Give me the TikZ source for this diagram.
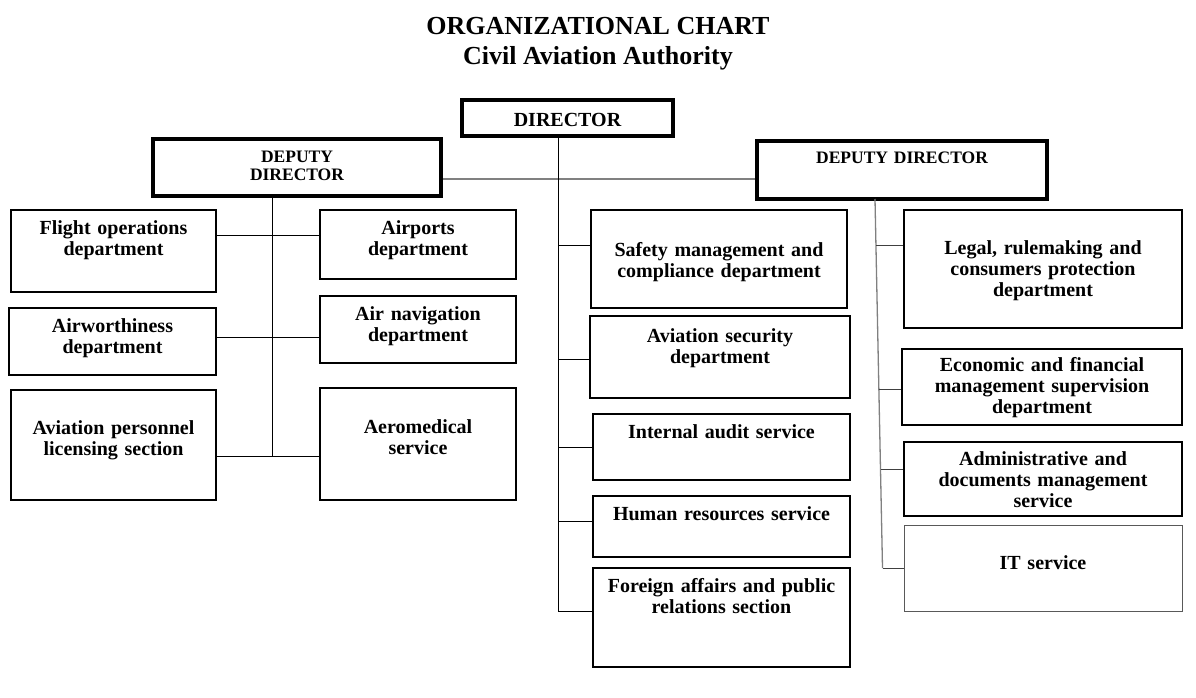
\documentclass[tikz,border=0pt]{standalone}
\usepackage{fontspec}
\setmainfont{Liberation Serif}
\usetikzlibrary{calc}

\begin{document}
\begin{tikzpicture}[x=1pt,y=-1pt,
    dept box/.style={rectangle,draw,line width=2.5pt,inner sep=0pt},
    head box/.style={rectangle,draw,line width=4pt,inner sep=0pt},
    box text/.style={font=\bfseries\fontsize{20}{21}\selectfont,text width=290pt,align=center,inner sep=0pt,anchor=base},
    head text/.style={font=\bfseries\fontsize{17.5}{18}\selectfont,text width=290pt,align=center,inner sep=0pt,anchor=base},
    title text/.style={font=\bfseries\fontsize{26}{30}\selectfont,inner sep=0pt,anchor=base},
    link/.style={line width=1pt},
    grey link/.style={line width=1.3pt,draw=gray}]
    \useasboundingbox (0,0) rectangle (1196,698);

    % title
    \node[title text] (title) at (598,35) {ORGANIZATIONAL CHART};
    \node[title text] (subtitle) at (598,65) {Civil Aviation Authority};

    % management
    \node[head box,minimum width=211pt,minimum height=36pt] (director) at (567.5,118) {};
    \node[box text] at ([yshift=-28.5pt]director.north) {DIRECTOR};
    \node[head box,minimum width=288pt,minimum height=57pt] (ldep) at (297,167.5) {};
    \node[head text] at ([yshift=-25pt]ldep.north) {DEPUTY\\DIRECTOR};
    \node[head box,minimum width=290pt,minimum height=58pt] (rdep) at (902,170) {};
    \node[head text] at ([yshift=-25pt]rdep.north) {DEPUTY DIRECTOR};

    % left deputy
    \node[dept box,minimum width=205pt,minimum height=82pt] (flight) at (113.5,251) {};
    \node[box text] at ([yshift=-26pt]flight.north) {Flight operations\\department};
    \node[dept box,minimum width=196pt,minimum height=69pt] (airports) at (418,244.5) {};
    \node[box text] at ([yshift=-26pt]airports.north) {Airports\\department};
    \node[dept box,minimum width=207pt,minimum height=67pt] (airworth) at (112.5,341.5) {};
    \node[box text] at ([yshift=-26pt]airworth.north) {Airworthiness\\department};
    \node[dept box,minimum width=196pt,minimum height=67pt] (airnav) at (418,329.5) {};
    \node[box text] at ([yshift=-26pt]airnav.north) {Air navigation\\department};
    \node[dept box,minimum width=205pt,minimum height=110pt] (licensing) at (113.5,445) {};
    \node[box text] at ([yshift=-46pt]licensing.north) {Aviation personnel\\licensing section};
    \node[dept box,minimum width=196pt,minimum height=112pt] (aeromed) at (418,444) {};
    \node[box text] at ([yshift=-47pt]aeromed.north) {Aeromedical\\service};

    % director
    \node[dept box,minimum width=256pt,minimum height=98pt] (safety) at (719,259) {};
    \node[box text] at ([yshift=-48pt]safety.north) {Safety management and\\compliance department};
    \node[dept box,minimum width=260pt,minimum height=82pt] (avsec) at (720,357) {};
    \node[box text] at ([yshift=-28pt]avsec.north) {Aviation security\\department};
    \node[dept box,minimum width=257pt,minimum height=66pt] (audit) at (721.5,447) {};
    \node[box text] at ([yshift=-26pt]audit.north) {Internal audit service};
    \node[dept box,minimum width=257pt,minimum height=61pt] (hr) at (721.5,526.5) {};
    \node[box text] at ([yshift=-26pt]hr.north) {Human resources service};
    \node[dept box,minimum width=257pt,minimum height=99pt] (foreign) at (721.5,617.5) {};
    \node[box text] at ([yshift=-26pt]foreign.north) {Foreign affairs and public\\relations section};

    % right deputy
    \node[dept box,minimum width=278pt,minimum height=118pt] (legal) at (1043,269) {};
    \node[box text] at ([yshift=-46pt]legal.north) {Legal, rulemaking and\\consumers protection\\department};
    \node[dept box,minimum width=280pt,minimum height=76pt] (econ) at (1042,387) {};
    \node[box text] at ([yshift=-24pt]econ.north) {Economic and financial\\management supervision\\department};
    \node[dept box,minimum width=278pt,minimum height=74pt] (admin) at (1043,479) {};
    \node[box text] at ([yshift=-25pt]admin.north) {Administrative and\\documents management\\service};
    \node[rectangle,draw=gray!70!black,line width=1pt,minimum width=278pt,minimum height=86pt] (it) at (1043,568) {};
    \node[box text] at ([yshift=-45pt]it.north) {IT service};

    % junctions
    \coordinate (hl) at (558,179);
    \coordinate (lj1) at (272,235);
    \coordinate (lj2) at (272,337);
    \coordinate (lj3) at (272,456);
    \coordinate (mj1) at (558,245);
    \coordinate (mj2) at (558,359);
    \coordinate (mj3) at (558,447);
    \coordinate (mj4) at (558,521);
    \coordinate (mj5) at (558,611);
    \coordinate (rtop) at (875,199);
    \coordinate (rbot) at (882.5,568);
    \coordinate (rj1) at ($(rtop)!0.125!(rbot)$);
    \coordinate (rj2) at ($(rtop)!0.515!(rbot)$);
    \coordinate (rj3) at ($(rtop)!0.734!(rbot)$);

    % connectors
    \draw[grey link] (ldep.east |- hl) -- (rdep.west |- hl);
    \draw[link] (lj3 |- ldep.south) -- (lj3);
    \draw[link] (flight.east |- lj1) -- (airports.west |- lj1);
    \draw[link] (airworth.east |- lj2) -- (airnav.west |- lj2);
    \draw[link] (licensing.east |- lj3) -- (aeromed.west |- lj3);
    \draw[link] (mj5 |- director.south) -- (mj5);
    \draw[link] (mj1) -- (safety.west |- mj1);
    \draw[link] (mj2) -- (avsec.west |- mj2);
    \draw[link] (mj3) -- (audit.west |- mj3);
    \draw[link] (mj4) -- (hr.west |- mj4);
    \draw[link] (mj5) -- (foreign.west |- mj5);
    \draw[grey link] (rtop) -- (rbot);
    \draw[link,draw=black!75] (rj1) -- (legal.west |- rj1);
    \draw[link,draw=black!75] (rj2) -- (econ.west |- rj2);
    \draw[link,draw=black!75] (rj3) -- (admin.west |- rj3);
    \draw[link,draw=black!75] (rbot) -- (it.west |- rbot);
\end{tikzpicture}
\end{document}
